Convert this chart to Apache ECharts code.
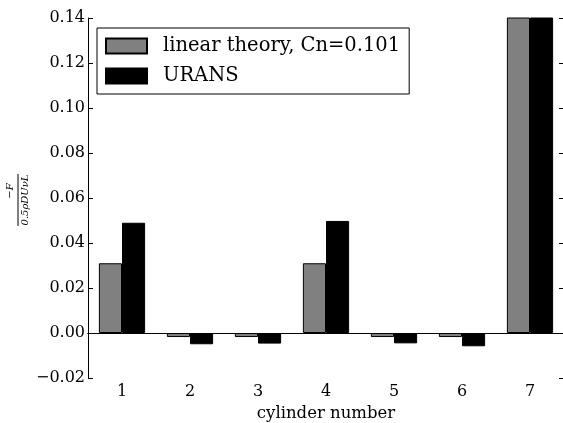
<!DOCTYPE html>
<html><head><meta charset="utf-8">
<script src="https://cdn.jsdelivr.net/npm/echarts@6/dist/echarts.min.js"></script>
<style>html,body{margin:0;padding:0;background:#fff;overflow:hidden;width:100%;height:100%}#c{width:100vw;height:100vh}</style>
</head><body><div id="c"></div>
<script>
const categories = ['1','2','3','4','5','6','7'];
const linearTheory = [0.031, -0.0018, -0.0018, 0.031, -0.0018, -0.0018, 0.20];
const urans = [0.049, -0.0050, -0.0047, 0.0498, -0.0046, -0.0059, 0.22];
const yTicks = [-0.02, 0.00, 0.02, 0.04, 0.06, 0.08, 0.10, 0.12, 0.14];
const seriesNames = ['linear theory, Cn=0.101', 'URANS'];

const FONT = 'DejaVu Serif';
const chart = echarts.init(document.getElementById('c'), null, {renderer: 'canvas'});
const fmt = v => v.toFixed(2).replace('-', '\u2212');
const lineStyle = {color: '#000', width: 1};
const option = {
  animation: false,
  backgroundColor: '#fff',
  grid: {left: 88, right: -1, top: 18, bottom: 45, containLabel: false, outerBoundsMode: 'none'},
  legend: {
    orient: 'vertical', left: 97, top: 28,
    padding: [8, 9, 8, 8], itemGap: 10,
    borderColor: '#000', borderWidth: 1, borderRadius: 0,
    itemWidth: 41, itemHeight: 15, icon: 'rect',
    textStyle: {fontFamily: FONT, fontSize: 19.5, color: '#000', padding: [0, 0, 0, 11]},
    data: seriesNames
  },
  xAxis: [{
    type: 'category', data: categories, position: 'bottom',
    axisLine: {lineStyle}, axisTick: {inside: true, alignWithLabel: true, length: 5, lineStyle},
    axisLabel: {fontFamily: FONT, fontSize: 16, color: '#000', margin: 6},
    name: 'cylinder number', nameLocation: 'middle', nameGap: 25,
    nameTextStyle: {fontFamily: FONT, fontSize: 16.5, color: '#000'}
  }, {
    type: 'category', data: categories, position: 'top',
    axisLine: {lineStyle}, axisTick: {inside: true, alignWithLabel: true, length: 5, lineStyle},
    axisLabel: {show: false}
  }],
  yAxis: [{
    type: 'value', min: yTicks[0], max: yTicks[yTicks.length - 1], interval: 0.02,
    axisLine: {show: true, lineStyle}, axisTick: {show: true, inside: true, length: 5, lineStyle},
    splitLine: {show: false},
    axisLabel: {fontFamily: FONT, fontSize: 16, color: '#000', margin: 3, formatter: fmt}
  }, {
    type: 'value', min: yTicks[0], max: yTicks[yTicks.length - 1], interval: 0.02, position: 'right',
    axisLine: {show: true, lineStyle}, axisTick: {show: true, inside: true, length: 5, lineStyle},
    splitLine: {show: false}, axisLabel: {show: false}
  }],
  series: [{
    name: seriesNames[0], type: 'bar', data: linearTheory, barWidth: '34%', barGap: '0%',
    itemStyle: {color: '#808080', borderColor: '#000', borderWidth: 1}
  }, {
    name: seriesNames[1], type: 'bar', data: urans, barWidth: '34%', barGap: '0%',
    itemStyle: {color: '#000', borderColor: '#000', borderWidth: 1}
  }],
  graphic: [
    {type: 'line', shape: {x1: 18, y1: 174, x2: 18, y2: 226}, style: {stroke: '#000', lineWidth: 1}},
    {type: 'text', x: 10, y: 191, rotation: Math.PI / 2,
     style: {text: '\u2212F', font: 'italic 10px "DejaVu Serif"', fill: '#000', align: 'center', verticalAlign: 'middle'}},
    {type: 'text', x: 25, y: 200, rotation: Math.PI / 2,
     style: {text: '0.5\u03c1DU\u03bdL', font: 'italic 10px "DejaVu Serif"', fill: '#000', align: 'center', verticalAlign: 'middle'}}
  ]
};
chart.setOption(option);
window.addEventListener('resize', () => chart.resize());
</script></body></html>
